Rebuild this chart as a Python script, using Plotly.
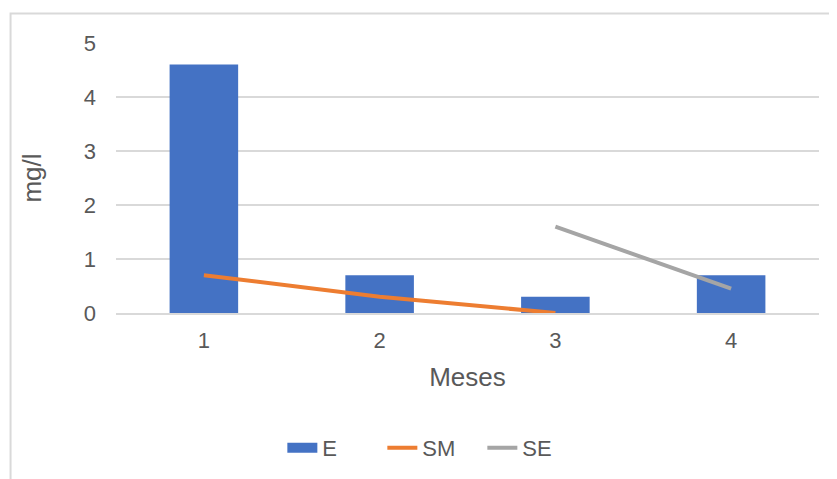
import plotly.graph_objects as go

meses = [1, 2, 3, 4]
e_vals = [4.6, 0.7, 0.3, 0.7]
sm_x = [1, 2, 3]
sm_vals = [0.7, 0.3, 0.0]
se_x = [3, 4]
se_vals = [1.6, 0.45]

GRAY_TXT = "#595959"
FONT = "Liberation Sans, Arial, sans-serif"
BLUE, ORANGE, GRAY = "#4472C4", "#ED7D31", "#A5A5A5"

fig = go.Figure()
fig.add_trace(go.Bar(x=meses, y=e_vals, name="E", width=0.39, showlegend=False,
                     legendgroup="E", marker={"color": BLUE, "line": {"width": 0}}))
# legend entry for bars drawn as a wide flat swatch, like Excel's
fig.add_trace(go.Scatter(x=[None], y=[None], name="E", mode="lines", legendgroup="E",
                         line={"color": BLUE, "width": 12}))
fig.add_trace(go.Scatter(x=sm_x, y=sm_vals, name="SM", mode="lines",
                         line={"color": ORANGE, "width": 4}))
fig.add_trace(go.Scatter(x=se_x, y=se_vals, name="SE", mode="lines",
                         line={"color": GRAY, "width": 4}))

# chart border (Excel chart area)
fig.add_shape(type="rect", xref="paper", yref="paper",
              x0=-0.150, x1=1.05, y0=-0.7, y1=1.109,
              line={"color": "#D9D9D9", "width": 2}, layer="below")

fig.update_layout(
    width=837, height=479,
    plot_bgcolor="white", paper_bgcolor="white",
    font={"family": FONT, "color": GRAY_TXT, "size": 22},
    margin={"l": 108, "r": 26, "t": 35, "b": 174},
    xaxis={"range": [0.5, 4.5], "tickvals": meses, "showgrid": False,
           "showline": True, "linecolor": "#D9D9D9", "linewidth": 1.5,
           "zeroline": False, "ticks": "", "ticklabelstandoff": 7,
           "title": {"text": "Meses", "standoff": 16}},
    yaxis={"range": [0, 5], "dtick": 1, "showgrid": True,
           "gridcolor": "#D9D9D9", "gridwidth": 1.5, "zeroline": False,
           "showline": False, "ticks": "", "ticklabelstandoff": 19,
           "title": {"text": "mg/l", "standoff": 34}},
    legend={"orientation": "h", "x": 0.45, "xanchor": "center",
            "y": -0.5, "yanchor": "middle", "itemwidth": 30,
            "entrywidth": 55},
    showlegend=True,
)

fig.write_html("out.html")
